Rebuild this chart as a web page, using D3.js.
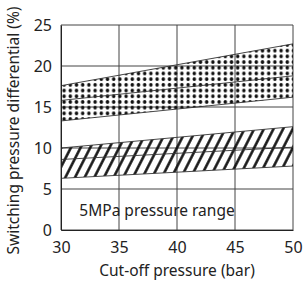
<!DOCTYPE html>
<html>
<head>
<meta charset="utf-8">
<script src="https://cdn.jsdelivr.net/npm/d3@7"></script>
<style>
  body { margin: 0; background: #fff; }
  text { font-family: "Noto Sans", sans-serif; fill: #222; }
</style>
</head>
<body>
<div id="graph_draw"></div>
<script>
// data
var xTicks = [30, 35, 40, 45, 50];
var yTicks = [0, 5, 10, 15, 20, 25];
var cutoff = [30, 50];
// dotted band (upper group)
var dotUpper = [17.6, 22.7];
var dotMid = [15.8, 18.8];
var dotLower = [13.3, 16.2];
// hatched band (lower group)
var hatchUpper = [10.0, 12.6];
var hatchMid = [8.6, 10.1];
var hatchLower = [6.3, 7.8];
var rangeLabel = "5MPa pressure range";

// set the dimensions and margins of the graph
var margin = {top: 25, right: 14, bottom: 52, left: 61},
    width = 307 - margin.left - margin.right,
    height = 282 - margin.top - margin.bottom;

var x = d3.scaleLinear().domain([30, 50]).range([0, width]);
var y = d3.scaleLinear().domain([0, 25]).range([height, 0]);

var root = d3.select("#graph_draw").append("svg")
    .attr("width", 307)
    .attr("height", 282);

// fill patterns
var defs = root.append("defs");
var dots = defs.append("pattern")
    .attr("id", "dots")
    .attr("patternUnits", "userSpaceOnUse")
    .attr("width", 6.2).attr("height", 5.7);
dots.append("circle").attr("cx", 3.1).attr("cy", 2.85).attr("r", 1.8).attr("fill", "#111");

var hatch = defs.append("pattern")
    .attr("id", "hatch")
    .attr("patternUnits", "userSpaceOnUse")
    .attr("width", 8.6).attr("height", 8.6)
    .attr("patternTransform", "rotate(27)");
hatch.append("line")
    .attr("x1", 4.3).attr("y1", -1).attr("x2", 4.3).attr("y2", 9.6)
    .attr("stroke", "#111").attr("stroke-width", 2.5);

var svg = root.append("g")
    .attr("transform", "translate(" + margin.left + "," + margin.top + ")");

// grid
svg.selectAll(".vgrid").data(xTicks).enter().append("line")
    .attr("x1", function(d) { return x(d); }).attr("x2", function(d) { return x(d); })
    .attr("y1", 0).attr("y2", height)
    .attr("stroke", "#444").attr("stroke-width", 1);
svg.selectAll(".hgrid").data(yTicks).enter().append("line")
    .attr("x1", 0).attr("x2", width)
    .attr("y1", function(d) { return y(d); }).attr("y2", function(d) { return y(d); })
    .attr("stroke", "#444").attr("stroke-width", 1);

// bands
function band(up, lo, fill) {
    var pts = cutoff.map(function(c, i) { return [x(c), y(up[i])]; })
        .concat(cutoff.map(function(c, i) { return [x(c), y(lo[i])]; }).reverse());
    svg.append("path")
        .attr("d", "M" + pts.join("L") + "Z")
        .attr("fill", fill);
}
band(dotUpper, dotLower, "url(#dots)");
band(hatchUpper, hatchLower, "url(#hatch)");

var line = d3.line()
    .x(function(d) { return x(d[0]); })
    .y(function(d) { return y(d[1]); });
[dotUpper, dotMid, dotLower, hatchUpper, hatchMid, hatchLower].forEach(function(s) {
    svg.append("path")
        .attr("d", line(cutoff.map(function(c, i) { return [c, s[i]]; })))
        .attr("fill", "none").attr("stroke", "#333").attr("stroke-width", 0.9);
});

// axes
var xAxis = svg.append("g")
    .attr("transform", "translate(0," + height + ")")
    .call(d3.axisBottom(x).tickValues(xTicks).tickSize(0).tickPadding(12));
var yAxis = svg.append("g")
    .call(d3.axisLeft(y).tickValues(yTicks).tickSize(0).tickPadding(9));
[xAxis, yAxis].forEach(function(a) {
    a.select(".domain").attr("stroke", "#222");
    a.selectAll("text").attr("font-size", 16).attr("font-family", "Noto Sans").attr("fill", "#222");
});

svg.append("text")
    .attr("x", x(40)).attr("y", height + 46)
    .attr("text-anchor", "middle").attr("font-size", 15.5)
    .text("Cut-off pressure (bar)");
root.append("text")
    .attr("transform", "translate(19," + (margin.top + height / 2 + 3) + ") rotate(-90)")
    .attr("text-anchor", "middle").attr("font-size", 15.5)
    .text("Switching pressure differential (%)");
svg.append("text")
    .attr("x", x(40) - 20).attr("y", y(2.5) + 6)
    .attr("text-anchor", "middle").attr("font-size", 15.5)
    .text(rangeLabel);
</script>
</body>
</html>
